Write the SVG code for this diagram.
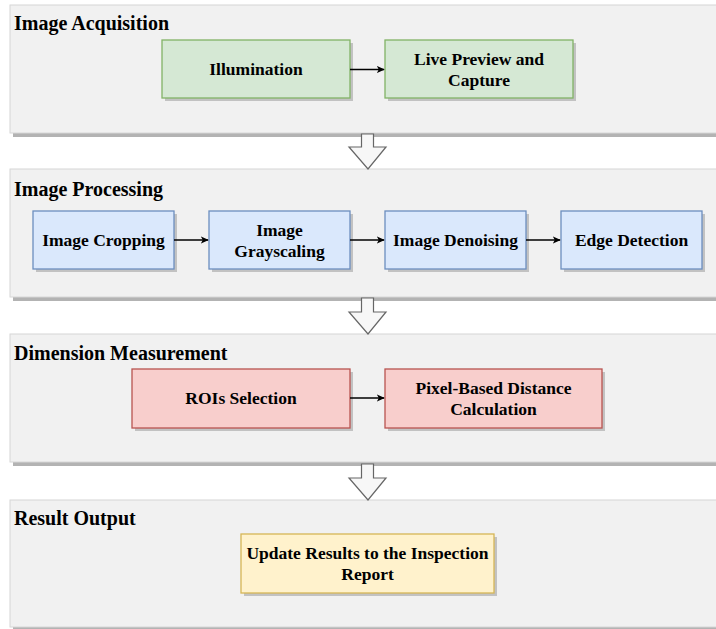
<svg xmlns="http://www.w3.org/2000/svg" width="716" height="629" viewBox="0 0 716 629">
<defs>
<style>
.panel{fill:#f1f1f1;stroke:#d6d6d6;stroke-width:1}
.pshadow{fill:#b3b3b3}
.bshadow{fill:#9a9a9a;opacity:0.55}
.title{font-family:"Liberation Serif","Times New Roman",serif;font-weight:bold;font-size:20px;fill:#000}
.lbl{font-family:"Liberation Serif","Times New Roman",serif;font-weight:bold;font-size:17.5px;fill:#000;text-anchor:middle}
.green{fill:#d5e8d4;stroke:#82b366;stroke-width:1.3}
.blue{fill:#dae8fc;stroke:#6c8ebf;stroke-width:1.3}
.red{fill:#f8cecc;stroke:#b85450;stroke-width:1.3}
.yellow{fill:#fff2cc;stroke:#d6b656;stroke-width:1.3}
.conn{stroke:#000;stroke-width:1.4;fill:none}
.block{fill:#f7f7f7;stroke:#666;stroke-width:1.2}
</style>
<marker id="ah" viewBox="0 0 10 10" refX="9" refY="5" markerWidth="8" markerHeight="8" markerUnits="userSpaceOnUse" orient="auto">
<path d="M0,0.5 L10,5 L0,9.5 L2.5,5 Z" fill="#000"/>
</marker>
</defs>

<g id="panel-acquisition">
<rect class="pshadow" x="13" y="8" width="720" height="129"/>
<rect class="panel" x="10" y="5" width="720" height="128"/>
<text class="title" x="14" y="30">Image Acquisition</text>
</g>
<g id="panel-processing">
<rect class="pshadow" x="13" y="172" width="720" height="129"/>
<rect class="panel" x="10" y="169" width="720" height="128"/>
<text class="title" x="14" y="196">Image Processing</text>
</g>
<g id="panel-measurement">
<rect class="pshadow" x="13" y="337" width="720" height="129"/>
<rect class="panel" x="10" y="334" width="720" height="128"/>
<text class="title" x="14" y="360">Dimension Measurement</text>
</g>
<g id="panel-output">
<rect class="pshadow" x="13" y="503" width="720" height="128"/>
<rect class="panel" x="10" y="500" width="720" height="127"/>
<text class="title" x="14" y="525">Result Output</text>
</g>

<g id="illumination">
<rect class="bshadow" x="165" y="43" width="188" height="58"/>
<rect class="green" x="162" y="40" width="188" height="58"/>
<text class="lbl" x="256" y="75">Illumination</text>
</g>
<g id="live-preview">
<rect class="bshadow" x="388" y="43" width="188" height="58"/>
<rect class="green" x="385" y="40" width="188" height="58"/>
<text class="lbl" x="479" y="65">Live Preview and</text>
<text class="lbl" x="479" y="86">Capture</text>
</g>

<g id="image-cropping">
<rect class="bshadow" x="36" y="214" width="141" height="58"/>
<rect class="blue" x="33" y="211" width="141" height="58"/>
<text class="lbl" x="103.5" y="246">Image Cropping</text>
</g>
<g id="image-grayscaling">
<rect class="bshadow" x="212" y="214" width="141" height="58"/>
<rect class="blue" x="209" y="211" width="141" height="58"/>
<text class="lbl" x="279.5" y="235.5">Image</text>
<text class="lbl" x="279.5" y="256.5">Grayscaling</text>
</g>
<g id="image-denoising">
<rect class="bshadow" x="388" y="214" width="141" height="58"/>
<rect class="blue" x="385" y="211" width="141" height="58"/>
<text class="lbl" x="455.5" y="246">Image Denoising</text>
</g>
<g id="edge-detection">
<rect class="bshadow" x="564" y="214" width="141" height="58"/>
<rect class="blue" x="561" y="211" width="141" height="58"/>
<text class="lbl" x="631.5" y="246">Edge Detection</text>
</g>

<g id="rois-selection">
<rect class="bshadow" x="135" y="372" width="218" height="59"/>
<rect class="red" x="132" y="369" width="218" height="59"/>
<text class="lbl" x="241" y="404">ROIs Selection</text>
</g>
<g id="pixel-distance">
<rect class="bshadow" x="388" y="372" width="217" height="59"/>
<rect class="red" x="385" y="369" width="217" height="59"/>
<text class="lbl" x="493.5" y="393.5">Pixel-Based Distance</text>
<text class="lbl" x="493.5" y="414.5">Calculation</text>
</g>

<g id="update-results">
<rect class="bshadow" x="244" y="537" width="253" height="59"/>
<rect class="yellow" x="241" y="534" width="253" height="59"/>
<text class="lbl" x="367.5" y="558.5">Update Results to the Inspection</text>
<text class="lbl" x="367.5" y="579.5">Report</text>
</g>

<g id="connectors">
<line class="conn" x1="350" y1="69.5" x2="384" y2="69.5" marker-end="url(#ah)"/>
<line class="conn" x1="174" y1="240" x2="208" y2="240" marker-end="url(#ah)"/>
<line class="conn" x1="350" y1="240" x2="384" y2="240" marker-end="url(#ah)"/>
<line class="conn" x1="526" y1="240" x2="560" y2="240" marker-end="url(#ah)"/>
<line class="conn" x1="350" y1="398" x2="384" y2="398" marker-end="url(#ah)"/>
<path class="block" d="M361.5,134 L373.5,134 L373.5,147 L386,147 L368,169 L349,147 L361.5,147 Z"/>
<path class="block" d="M361.5,298 L373.5,298 L373.5,312 L386,312 L368,334 L349,312 L361.5,312 Z"/>
<path class="block" d="M361.5,464 L373.5,464 L373.5,478 L386,478 L368,500 L349,478 L361.5,478 Z"/>
</g>
</svg>
